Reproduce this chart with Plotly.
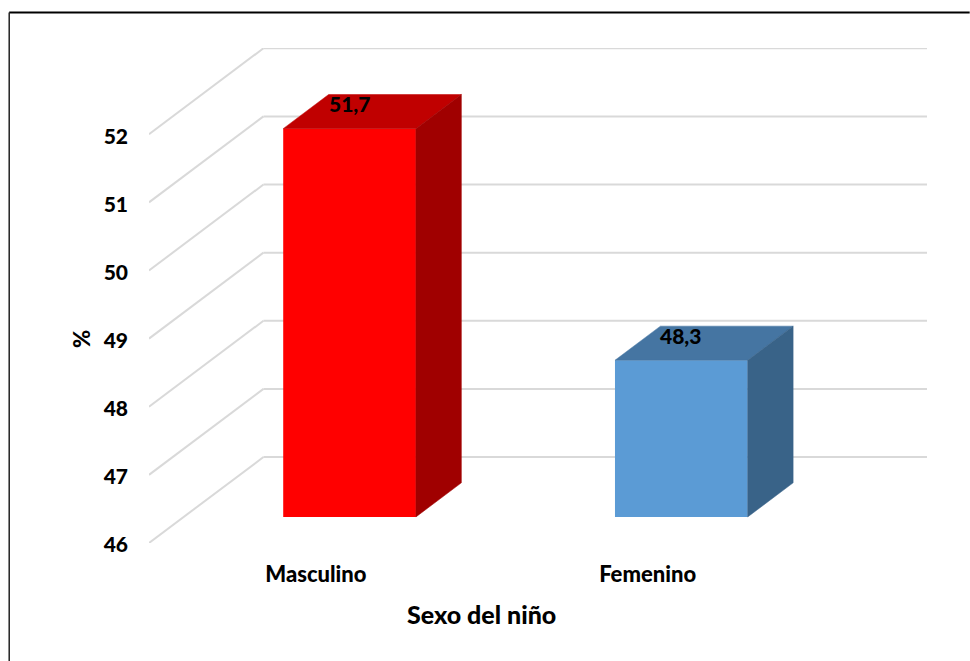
import plotly.graph_objects as go

# Chart data
categories = ["Masculino", "Femenino"]
percentages = [51.7, 48.3]
value_ticks = [46, 47, 48, 49, 50, 51, 52]

# Face colours of each column: front, top, side
front_colors = ["#FF0000", "#5B9BD5"]
top_colors = ["#C00000", "#4575A2"]
side_colors = ["#A00000", "#396388"]

FONT = "Lato"
WEIGHT = 900
GRID = "#D9D9D9"

# Oblique projection: one full unit of depth moves a point this far in data units
SHIFT_X = 0.345
SHIFT_Y = 1.262
BAR_WIDTH = 0.4
DEPTH_NEAR = 0.303
DEPTH_FAR = 0.70
Y_MIN = 46
Y_MAX = 53.266


def project(x, value, depth):
    return x + depth * SHIFT_X, value + depth * SHIFT_Y


fig = go.Figure()

# Front faces
for i, (name, value) in enumerate(zip(categories, percentages)):
    cx, base = project(i, Y_MIN, DEPTH_NEAR)
    fig.add_trace(go.Bar(
        x=[cx], y=[value - Y_MIN], base=[base], width=[BAR_WIDTH],
        marker=dict(color=front_colors[i], line=dict(width=0)),
        name=name, hoverinfo="skip", showlegend=False,
    ))

# Top and side faces as filled polygons
for i, value in enumerate(percentages):
    left, right = i - BAR_WIDTH / 2, i + BAR_WIDTH / 2
    top = [project(left, value, DEPTH_NEAR), project(right, value, DEPTH_NEAR),
           project(right, value, DEPTH_FAR), project(left, value, DEPTH_FAR)]
    side = [project(right, Y_MIN, DEPTH_NEAR), project(right, Y_MIN, DEPTH_FAR),
            project(right, value, DEPTH_FAR), project(right, value, DEPTH_NEAR)]
    for face, color in ((top, top_colors[i]), (side, side_colors[i])):
        xs, ys = zip(*face)
        fig.add_trace(go.Scatter(
            x=list(xs) + [xs[0]], y=list(ys) + [ys[0]], mode="lines",
            fill="toself", fillcolor=color, line=dict(width=0.5, color=color),
            hoverinfo="skip", showlegend=False,
        ))

# Wall and floor gridlines stay behind the columns
x_start = -0.5
x_end = 1.5
for tick in value_ticks:
    bx, by = project(x_start, tick, 1)
    ex, ey = project(x_end, tick, 1)
    fig.add_shape(type="line", x0=x_start, y0=tick, x1=bx, y1=by, xref="x", yref="y",
                  layer="below", line=dict(color=GRID, width=2))
    fig.add_shape(type="line", x0=bx, y0=by, x1=ex, y1=ey, xref="x", yref="y",
                  layer="below", line=dict(color=GRID, width=2))

# Value labels above the front face of each column
for i, value in enumerate(percentages):
    cx, _ = project(i, Y_MIN, DEPTH_NEAR)
    _, top_y = project(i, value, DEPTH_NEAR)
    fig.add_annotation(
        x=cx, y=top_y, xref="x", yref="y", yshift=25, yanchor="middle",
        text=f"{value:.1f}".replace(".", ","), showarrow=False,
        font=dict(family=FONT, size=21, color="#000000", weight=WEIGHT),
    )

# Axis titles
fig.add_annotation(x=-0.087, xref="paper", xanchor="center", y=49, yref="y", yanchor="middle",
                   text="%", textangle=-90, showarrow=False,
                   font=dict(family=FONT, size=22, color="#000000", weight=WEIGHT))
fig.add_annotation(x=0.427, xref="paper", xanchor="center", y=-0.1425, yref="paper", yanchor="middle",
                   text="Sexo del niño", showarrow=False,
                   font=dict(family=FONT, size=25, color="#000000", weight=WEIGHT))

# Frame around the chart: only the top and left edges are visible
PLOT_W = 778.6
PLOT_H = 495.2
frame_left = (8.8 - 148.7) / PLOT_W
frame_top = (542.7 - 12) / PLOT_H
frame_bottom = (542.7 - 661) / PLOT_H
frame_right = (970 - 148.7) / PLOT_W
fig.add_shape(type="line", xref="paper", yref="paper", x0=frame_left, x1=frame_right,
              y0=frame_top, y1=frame_top, line=dict(color="#000000", width=2))
fig.add_shape(type="line", xref="paper", yref="paper", x0=frame_left, x1=frame_left,
              y0=frame_bottom, y1=frame_top, line=dict(color="#222222", width=1.5))

fig.update_layout(
    width=970, height=661,
    margin=dict(l=148.7, r=42.7, t=47.5, b=118.3, autoexpand=False),
    paper_bgcolor="#FFFFFF", plot_bgcolor="#FFFFFF",
    barmode="overlay",
    showlegend=False,
    xaxis=dict(
        range=[-0.5, 1.5 + SHIFT_X], tickmode="array", tickvals=[0, 1], ticktext=categories,
        showgrid=False, zeroline=False, showline=False, ticks="", ticklabelstandoff=16,
        ticklabelshift=1,
        tickfont=dict(family=FONT, size=22, color="#000000", weight=WEIGHT),
    ),
    yaxis=dict(
        range=[Y_MIN, Y_MAX], tickmode="array", tickvals=value_ticks,
        showgrid=False, zeroline=False, showline=False, ticks="", ticklabelstandoff=20,
        ticklabelshift=2,
        tickfont=dict(family=FONT, size=21, color="#000000", weight=WEIGHT),
    ),
)

fig.write_html("out.html", config={"displayModeBar": False})
